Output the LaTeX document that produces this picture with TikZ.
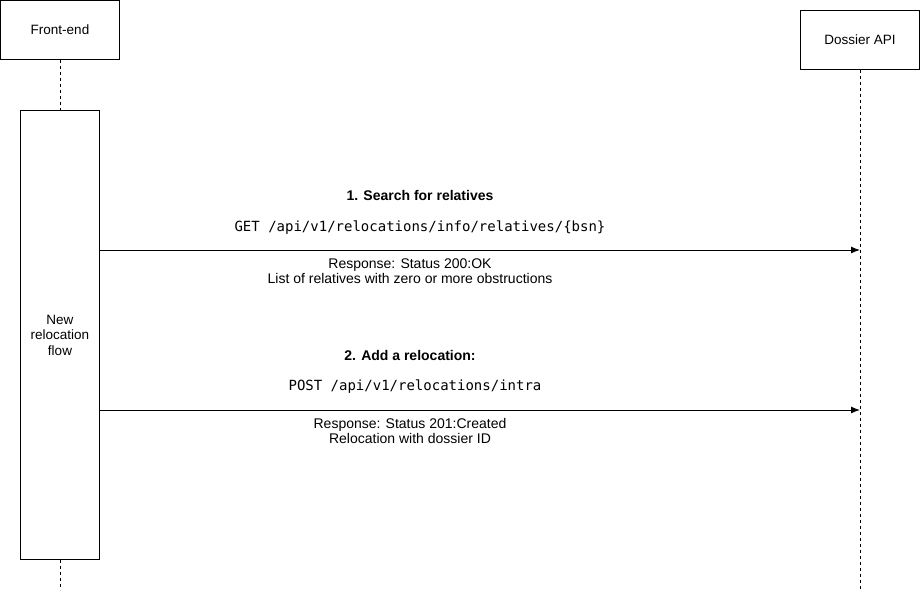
\documentclass[tikz,border=0pt]{standalone}
\usepackage{fontspec}
\setmainfont{Liberation Sans}
\newfontfamily\apifont{DejaVu Sans Mono}
\usetikzlibrary{arrows.meta}

\tikzset{
  actor/.style={draw, line width=1pt, minimum width=119pt, minimum height=59pt,
    inner sep=0pt, font=\fontsize{13.5}{15}\selectfont},
  act/.style={draw, line width=1pt, minimum width=79pt, minimum height=449pt,
    inner sep=0pt, align=center, font=\fontsize{13.5}{15.5}\selectfont},
  life/.style={line width=1pt, dash pattern=on 3pt off 3pt},
  msg/.style={line width=1pt, -{Latex[length=9pt,width=7pt]}},
  t/.style={font=\fontsize{14}{15}\selectfont, align=center, inner sep=0pt},
  tb/.style={font=\fontsize{14}{15}\selectfont\bfseries, inner sep=0pt},
  api/.style={font=\fontsize{14}{16}\apifont, inner sep=0pt}
}

\begin{document}
\begin{tikzpicture}[x=1pt,y=-1pt]
  \useasboundingbox (0,0) rectangle (921,592);
  % participants
  \node[actor](fe) at (60,30){Front-end};
  \node[actor](dapi) at (860,40){Dossier API};
  \node[act](flow) at (60,335){New\\relocation\\flow};
  \coordinate(feend) at (60,590);
  \coordinate(apiend) at (860,590);
  \draw[life] (fe) -- (flow);
  \draw[life] (flow) -- (feend);
  \draw[life] (dapi) -- (apiend);
  % calls
  \coordinate(call1) at (860,250);
  \coordinate(call2) at (860,410);
  \draw[msg] (flow.east |- call1) -- (call1);
  \draw[msg] (flow.east |- call2) -- (call2);
  \node[tb](lbl1) at (420,195){1. Search for relatives};
  \node[api](get) at (420,228){GET /api/v1/relocations/info/relatives/\{bsn\}};
  \node[t](resp1) at (410,271){Response: Status 200:OK\\List of relatives with zero or more obstructions};
  \node[tb](lbl2) at (410,355){2. Add a relocation:};
  \node[api](post) at (415,387){POST /api/v1/relocations/intra};
  \node[t](resp2) at (410,431){Response: Status 201:Created\\Relocation with dossier ID};
\end{tikzpicture}
\end{document}
